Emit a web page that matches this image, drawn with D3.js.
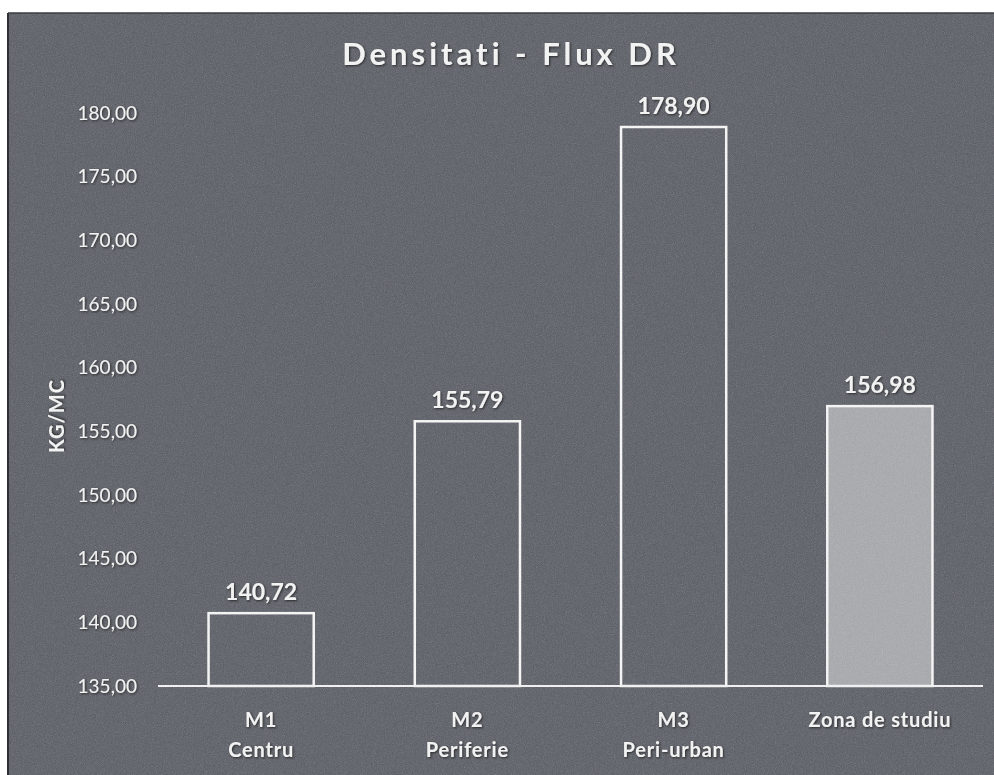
<!DOCTYPE html>
<html>
<head>
<meta charset="utf-8">
<script src="https://cdn.jsdelivr.net/npm/d3@7"></script>
<style>
  html, body { margin: 0; padding: 0; background: #ffffff; }
  svg { display: block; }
  text { font-family: Lato, "Open Sans", sans-serif; fill: #f2f2f2; }
</style>
</head>
<body>
<svg id="chart" width="994" height="775"></svg>
<script>
const title = "Densitati - Flux DR";
const categoriesTop = ["M1", "M2", "M3", "Zona de studiu"];
const categoriesBottom = ["Centru", "Periferie", "Peri-urban", ""];
const values = [140.72, 155.79, 178.90, 156.98];
const valueLabels = ["140,72", "155,79", "178,90", "156,98"];
const yTicks = [135, 140, 145, 150, 155, 160, 165, 170, 175, 180];
const yTitle = "KG/MC";

const W = 994, H = 775;
const svg = d3.select("#chart");
const defs = svg.append("defs");

const noise = defs.append("filter").attr("id", "noise")
  .attr("x", 0).attr("y", 0).attr("width", "100%").attr("height", "100%");
noise.append("feTurbulence").attr("type", "fractalNoise")
  .attr("baseFrequency", 1.1).attr("numOctaves", 2).attr("seed", 3).attr("result", "t");
noise.append("feColorMatrix").attr("type", "saturate").attr("values", 0);

const shadow = defs.append("filter").attr("id", "shadow")
  .attr("x", "-10%").attr("y", "-20%").attr("width", "120%").attr("height", "140%");
shadow.append("feDropShadow").attr("dx", 1).attr("dy", 1).attr("stdDeviation", 0.8)
  .attr("flood-color", "#1a1a1a").attr("flood-opacity", 0.8);

// background frame
const frameX = 8, frameY = 13;
svg.append("rect").attr("x", frameX).attr("y", frameY)
  .attr("width", W - frameX).attr("height", H - frameY).attr("fill", "#575a62");
svg.append("rect").attr("x", frameX).attr("y", frameY)
  .attr("width", W - frameX).attr("height", H - frameY)
  .attr("filter", "url(#noise)").attr("opacity", 0.3);
svg.append("line").attr("x1", frameX).attr("x2", frameX).attr("y1", frameY).attr("y2", H)
  .attr("stroke", "#2e3036").attr("stroke-width", 2);
svg.append("line").attr("x1", frameX).attr("x2", W).attr("y1", frameY).attr("y2", frameY)
  .attr("stroke", "#3a3c42").attr("stroke-width", 1.5);

const plot = { left: 158, right: 983, top: 113, bottom: 686 };

const x = d3.scaleBand().domain(categoriesTop)
  .range([plot.left, plot.right]).paddingInner(0.49).paddingOuter(0.245);
const y = d3.scaleLinear().domain([135, 180]).range([plot.bottom, plot.top]);

// title
svg.append("text").attr("x", 511).attr("y", 65)
  .attr("text-anchor", "middle").attr("font-size", 31).attr("font-weight", 700)
  .attr("letter-spacing", 4).attr("filter", "url(#shadow)").text(title);

// y axis
const yAxis = d3.axisLeft(y).tickValues(yTicks)
  .tickFormat(d => d3.format(".2f")(d).replace(".", ",")).tickSize(0).tickPadding(21);
const gy = svg.append("g").attr("transform", `translate(${plot.left},0)`).call(yAxis);
gy.select(".domain").remove();
gy.selectAll("text").attr("font-size", 19).attr("font-family", "Lato, sans-serif")
  .attr("fill", "#f2f2f2").attr("filter", "url(#shadow)");

// y title
svg.append("text").attr("transform", `translate(64,416) rotate(-90)`)
  .attr("text-anchor", "middle").attr("font-size", 20).attr("font-weight", 700)
  .attr("letter-spacing", 1).attr("filter", "url(#shadow)").text(yTitle);

// bars
const data = categoriesTop.map((c, i) => ({ c, v: values[i], lab: valueLabels[i], i }));
svg.append("g").selectAll("rect").data(data).join("rect")
  .attr("x", d => x(d.c)).attr("y", d => y(d.v))
  .attr("width", x.bandwidth()).attr("height", d => y(135) - y(d.v))
  .attr("fill", d => d.i === 3 ? "#a7a9ad" : "none")
  .attr("stroke", "#f4f4f4").attr("stroke-width", 2.5);
svg.append("g").selectAll("rect").data(data.filter(d => d.i === 3)).join("rect")
  .attr("x", d => x(d.c) + 1.5).attr("y", d => y(d.v) + 1.5)
  .attr("width", x.bandwidth() - 3).attr("height", d => y(135) - y(d.v) - 3)
  .attr("filter", "url(#noise)").attr("opacity", 0.3);

// baseline
svg.append("line").attr("x1", plot.left).attr("x2", plot.right)
  .attr("y1", y(135)).attr("y2", y(135)).attr("stroke", "#f0f0f0").attr("stroke-width", 2);

// value labels
svg.append("g").selectAll("text").data(data).join("text")
  .attr("x", d => x(d.c) + x.bandwidth() / 2).attr("y", d => y(d.v) - 13)
  .attr("text-anchor", "middle").attr("font-size", 23).attr("font-weight", 700)
  .attr("filter", "url(#shadow)").text(d => d.lab);

// category labels
const gx = svg.append("g");
gx.selectAll("text.top").data(data).join("text").attr("class", "top")
  .attr("x", d => x(d.c) + x.bandwidth() / 2).attr("y", 727)
  .attr("text-anchor", "middle").attr("font-size", 20).attr("font-weight", 700)
  .attr("letter-spacing", 0.8).attr("filter", "url(#shadow)").text(d => d.c);
gx.selectAll("text.bot").data(data).join("text").attr("class", "bot")
  .attr("x", d => x(d.c) + x.bandwidth() / 2).attr("y", 757)
  .attr("text-anchor", "middle").attr("font-size", 20).attr("font-weight", 700)
  .attr("letter-spacing", 0.8).attr("filter", "url(#shadow)")
  .text(d => categoriesBottom[d.i]);
</script>
</body>
</html>
